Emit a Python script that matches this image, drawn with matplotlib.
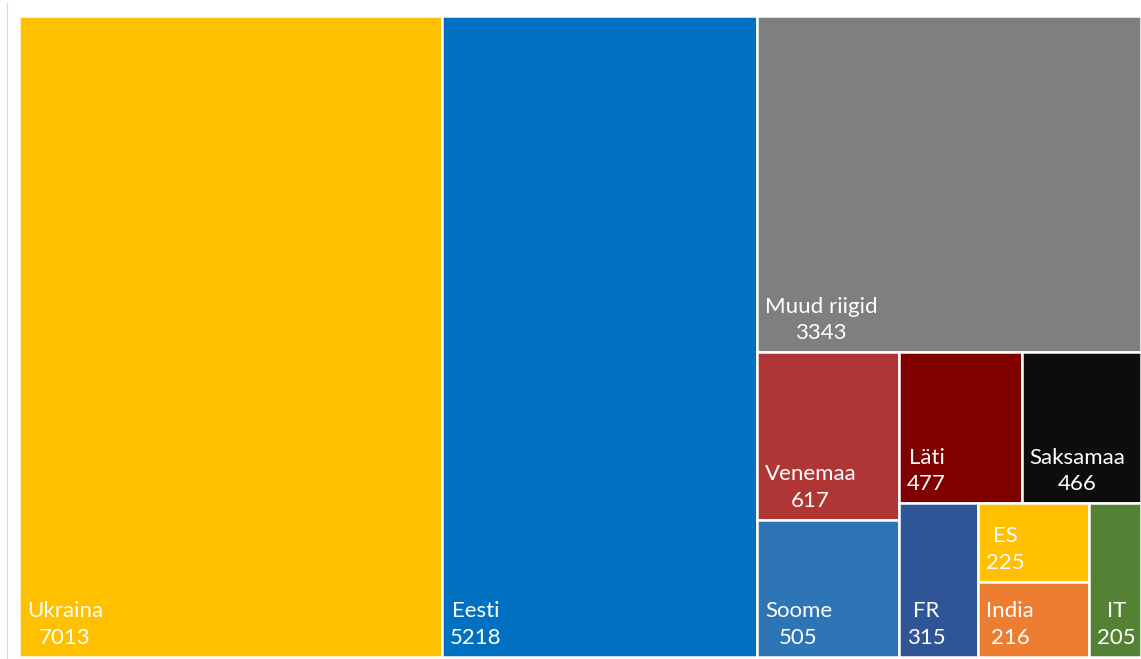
#! -*- coding: utf-8 -*-
import matplotlib
matplotlib.use('Agg')
import matplotlib.pyplot as plt
from matplotlib.patches import Rectangle
from matplotlib.lines import Line2D

#---------------------------------
# データ
#---------------------------------
NAMES = ['Ukraina', 'Eesti', 'Muud riigid', 'Venemaa', 'Soome', 'Läti', 'Saksamaa',
         'FR', 'ES', 'India', 'IT']
VALUES = [7013, 5218, 3343, 617, 505, 477, 466, 315, 225, 216, 205]
COLORS = ['#FFC000', '#0070C0', '#7F7F7F', '#B03636', '#2E75B6', '#800000', '#0D0D0D',
          '#2F5597', '#FFC000', '#ED7D31', '#548235']

FIG_W, FIG_H = 1141, 659
PX_L, PX_R, PX_T, PX_B = 19, 1141, 16, 657


#---------------------------------
# 関数
#---------------------------------
def worst(row, length):
    s = sum(row)
    w = s / length
    return max(max(w / (r / w), (r / w) / w) for r in row)


def squarify(values, x, y, w, h):
    # values は面積(ソート済み)
    rects = []
    vals = list(values)
    while vals:
        length = min(w, h)
        row = [vals[0]]
        i = 1
        while i < len(vals) and worst(row + [vals[i]], length) <= worst(row, length):
            row.append(vals[i])
            i += 1
        vals = vals[i:]
        s = sum(row)
        if w >= h:
            # 左側に縦の列
            cw = s / h
            cy = y
            for r in row:
                rh = r / cw
                rects.append((x, cy, cw, rh))
                cy += rh
            x += cw
            w -= cw
        else:
            # 上側に横の行
            rh = s / w
            cx = x
            for r in row:
                rw = r / rh
                rects.append((cx, y, rw, rh))
                cx += rw
            y += rh
            h -= rh
    return rects


def main():
    plt.rcParams['font.family'] = ['Lato', 'DejaVu Sans']
    fig = plt.figure(figsize=(FIG_W / 100, FIG_H / 100), dpi=100)
    W = PX_R - PX_L
    H = PX_B - PX_T
    ax = fig.add_axes([PX_L / FIG_W, (FIG_H - PX_B) / FIG_H, W / FIG_W, H / FIG_H])
    ax.set_xlim(0, W)
    ax.set_ylim(H, 0)
    ax.axis('off')

    total = float(sum(VALUES))
    areas = [v / total * W * H for v in VALUES]
    rects = squarify(areas, 0, 0, W, H)

    for (rx, ry, rw, rh), name, val, col in zip(rects, NAMES, VALUES, COLORS):
        ax.add_patch(Rectangle((rx, ry), rw, rh, facecolor=col, edgecolor='white',
                               linewidth=1.8, clip_on=False))
        ax.annotate('{}\n{}'.format(name, val), xy=(rx, ry + rh), xytext=(8, 9),
                    textcoords='offset pixels', ha='left', va='bottom',
                    multialignment='center', color='white', fontsize=16,
                    linespacing=1.42)

    # 左側の枠線
    fig.add_artist(Line2D([6.5 / FIG_W, 6.5 / FIG_W], [0, 1 - 3 / FIG_H],
                          color='#D9D9D9', linewidth=0.8))

    plt.savefig('out.png', dpi=100)
    plt.close()


if __name__ == '__main__':
    main()
